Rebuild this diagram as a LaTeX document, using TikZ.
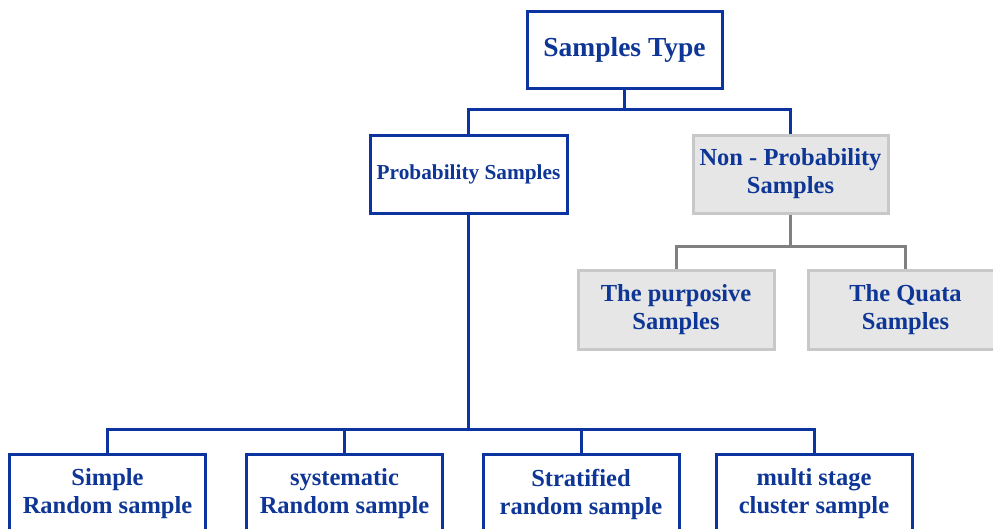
\documentclass[tikz,border=0pt]{standalone}
\usepackage{fontspec}
\setmainfont{Liberation Serif}
\definecolor{bblue}{RGB}{12,52,160}
\definecolor{tblue}{RGB}{14,54,150}
\definecolor{gfill}{RGB}{230,230,230}
\definecolor{gline}{RGB}{200,200,200}
\definecolor{gconnc}{RGB}{128,128,128}
\tikzset{
  bbox/.style={draw=bblue, line width=3pt, fill=white, text=tblue, font=\bfseries\fontsize{24.5}{28}\selectfont, align=center, inner sep=0pt},
  gbox/.style={draw=gline, line width=3pt, fill=gfill, text=tblue, font=\bfseries\fontsize{24.5}{28}\selectfont, align=center, inner sep=0pt},
  conn/.style={draw=bblue, line width=3pt},
  gconn/.style={draw=gconnc, line width=3pt}
}
\begin{document}
\begin{tikzpicture}[x=1pt,y=-1pt]
\useasboundingbox (0,0) rectangle (993,528);
\clip (0,0) rectangle (993,528);
\fill[white] (0,0) rectangle (993,528);
\node[bbox, minimum width=195pt, minimum height=77pt, font=\bfseries\fontsize{27.5}{32}\selectfont] (root) at (624.5,50) {Samples Type};
\node[bbox, minimum width=197pt, minimum height=78pt, font=\bfseries\fontsize{21.3}{25}\selectfont] (prob) at (468.5,174) {Probability Samples};
\node[gbox, minimum width=195pt, minimum height=78pt] (nonprob) at (790.5,174) {Non - Probability\\Samples};
\node[gbox, minimum width=196pt, minimum height=79pt] (purp) at (676,309.5) {The purposive\\Samples};
\node[gbox, minimum width=195pt, minimum height=79pt] (quata) at (905.5,309.5) {The Quata\\Samples};
\node[bbox, minimum width=196pt, minimum height=80pt] (simple) at (107.5,494) {Simple\\Random sample};
\node[bbox, minimum width=196pt, minimum height=80pt] (syst) at (344.5,494) {systematic\\Random sample};
\node[bbox, minimum width=196pt, minimum height=80pt] (strat) at (581,494) {Stratified\\random sample};
\node[bbox, minimum width=196pt, minimum height=80pt] (multi) at (814,494) {multi stage\\cluster sample};
\draw[conn] (root.south) -- ++(0,19) -| (prob.north);
\draw[conn] (root.south) -- ++(0,19) -| (nonprob.north);
\draw[gconn] (nonprob.south) -- ++(0,32) -| (purp.north);
\draw[gconn] (nonprob.south) -- ++(0,32) -| (quata.north);
\draw[conn] (prob.south) -- ++(0,215) -| (simple.north);
\draw[conn] (prob.south) -- ++(0,215) -| (syst.north);
\draw[conn] (prob.south) -- ++(0,215) -| (strat.north);
\draw[conn] (prob.south) -- ++(0,215) -| (multi.north);
\end{tikzpicture}
\end{document}
